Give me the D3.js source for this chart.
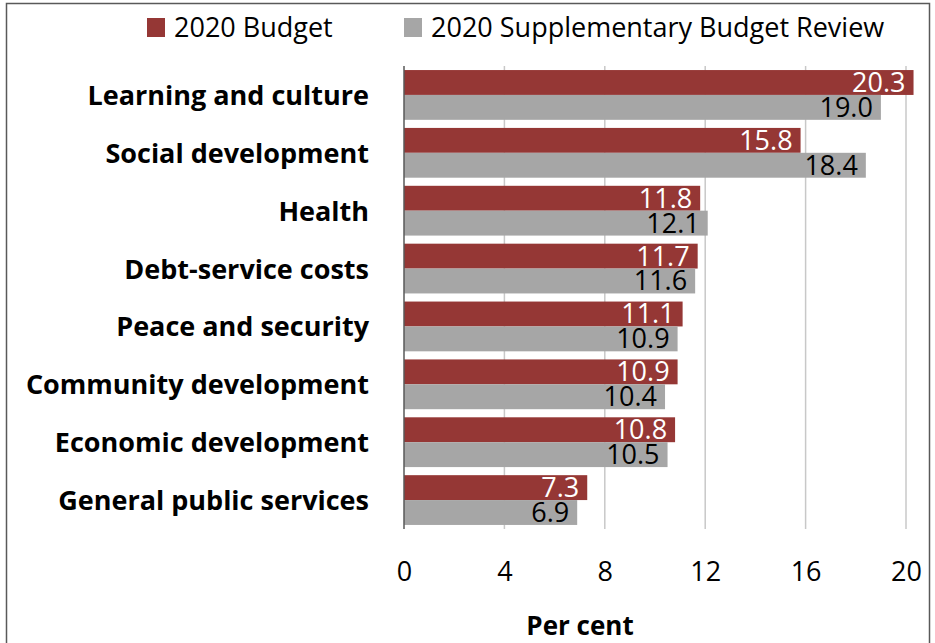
<!DOCTYPE html>
<html><head><meta charset="utf-8">
<script src="https://cdn.jsdelivr.net/npm/d3@7"></script>
<style>
html,body{margin:0;padding:0;background:#fff;}
svg{display:block;font-family:"Open Sans",sans-serif;}
</style></head>
<body>
<svg id="chart" width="935" height="643"></svg>
<script>
const categories = ["Learning and culture","Social development","Health","Debt-service costs","Peace and security","Community development","Economic development","General public services"];
const budget2020 = [20.3,15.8,11.8,11.7,11.1,10.9,10.8,7.3];
const supplementary2020 = [19.0,18.4,12.1,11.6,10.9,10.4,10.5,6.9];
const seriesNames = ["2020 Budget","2020 Supplementary Budget Review"];
const xTicks = [0,4,8,12,16,20];
const xTitle = "Per cent";

const colors = ["#953735","#a6a6a6"];
const labelColors = ["#ffffff","#000000"];
const svg = d3.select("#chart");

svg.append("rect").attr("x",6.5).attr("y",3.5).attr("width",923).attr("height",700)
  .attr("fill","none").attr("stroke","#595959").attr("stroke-width",1.5);

const x = d3.scaleLinear().domain([0,20]).range([404,906]);
const y = d3.scaleBand().domain(categories).range([66,529]).paddingInner(0.14).paddingOuter(0.07);
const sub = d3.scaleBand().domain([0,1]).range([0,y.bandwidth()]);

// gridlines
svg.append("g").selectAll("line").data(xTicks.filter(d=>d>0)).join("line")
  .attr("x1",d=>x(d)).attr("x2",d=>x(d)).attr("y1",66).attr("y2",529)
  .attr("stroke","#c8c8c8").attr("stroke-width",1.5);

const series = [budget2020, supplementary2020];
series.forEach((vals,si)=>{
  const g = svg.append("g");
  g.selectAll("rect").data(vals).join("rect")
    .attr("x",x(0)).attr("y",(d,i)=>y(categories[i])+sub(si))
    .attr("width",d=>x(d)-x(0)).attr("height",sub.bandwidth())
    .attr("fill",colors[si]);
  g.selectAll("text").data(vals).join("text")
    .attr("x",d=>x(d)-8).attr("y",(d,i)=>y(categories[i])+sub(si)+sub.bandwidth()-3)
    .attr("text-anchor","end").attr("font-size",27).attr("fill",labelColors[si])
    .text(d=>d.toFixed(1));
});

// y axis line
svg.append("line").attr("x1",x(0)).attr("x2",x(0)).attr("y1",66).attr("y2",529)
  .attr("stroke","#595959").attr("stroke-width",1.5);

// category labels
svg.append("g").selectAll("text").data(categories).join("text")
  .attr("x",369).attr("y",d=>y(d)+y.bandwidth()/2+10)
  .attr("text-anchor","end").attr("font-size",27).attr("font-weight","bold")
  .attr("fill","#000").text(d=>d);

// x axis tick labels
const xAxis = d3.axisBottom(x).tickValues(xTicks).tickSize(0).tickPadding(0).tickFormat(d3.format("d"));
const ax = svg.append("g").attr("transform","translate(0,562)").call(xAxis);
ax.select(".domain").remove();
ax.selectAll("text").attr("font-size",27).attr("font-family","Open Sans").attr("fill","#000").attr("dy","0.71em");

svg.append("text").attr("x",580).attr("y",635).attr("text-anchor","middle")
  .attr("font-size",26).attr("font-weight","bold").text(xTitle);

// legend
const legX = [147,404];
seriesNames.forEach((n,i)=>{
  svg.append("rect").attr("x",legX[i]).attr("y",18).attr("width",18).attr("height",19).attr("fill",colors[i]);
  svg.append("text").attr("x",legX[i]+27).attr("y",37).attr("font-size",27).text(n);
});
</script>
</body></html>
